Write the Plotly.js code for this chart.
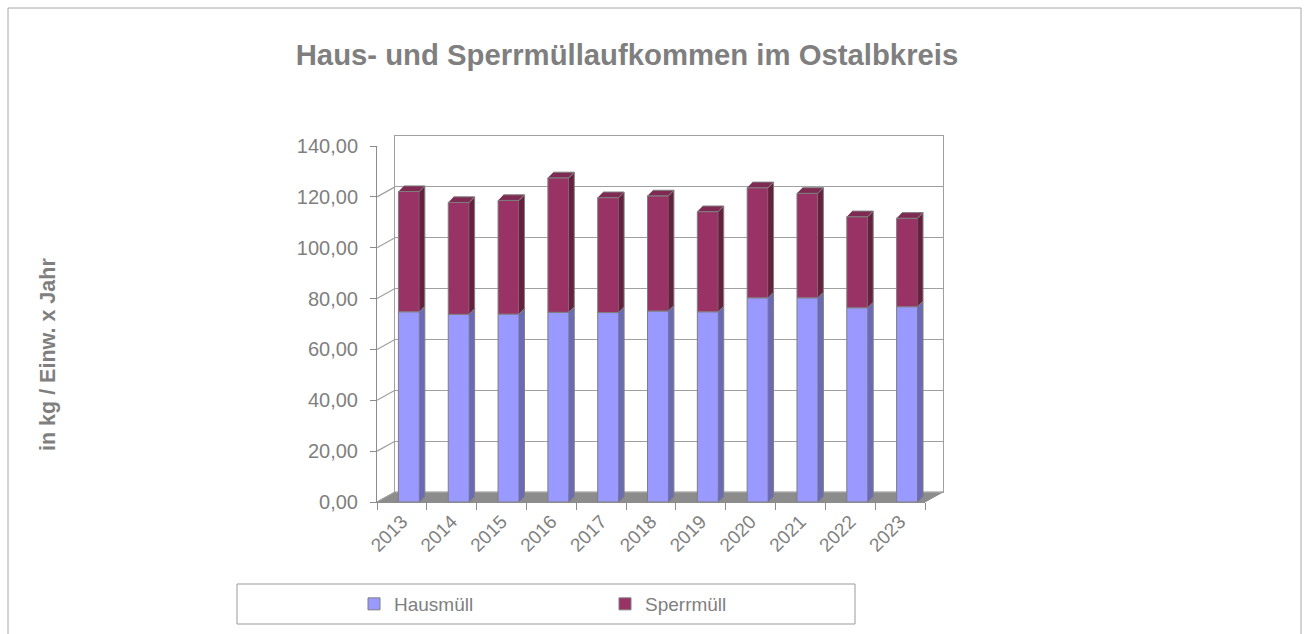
<!DOCTYPE html>
<html><head><meta charset="utf-8">
<script src="https://cdn.plot.ly/plotly-3.0.1.min.js"></script>
<style>html,body{margin:0;padding:0;background:#fff}#chart{width:1309px;height:634px}</style>
</head><body><div id="chart"></div>
<script>
// ---- data ----
const years = ['2013','2014','2015','2016','2017','2018','2019','2020','2021','2022','2023'];
const hausmuell = [74.8, 73.8, 73.9, 74.6, 74.5, 75.1, 74.8, 80.3, 80.3, 76.4, 76.8];
const sperrmuell = [47.3, 44.0, 44.7, 52.9, 45.2, 45.3, 39.4, 43.3, 41.1, 35.8, 34.8];
const seriesNames = ['Hausmüll', 'Sperrmüll'];
const yTickVals = [0, 20, 40, 60, 80, 100, 120, 140];
const chartTitle = 'Haus- und Sperrmüllaufkommen im Ostalbkreis';
const yTitle = 'in kg / Einw. x Jahr';

// ---- geometry / style ----
const W = 1309, H = 634;
const px = v => v / W, py = v => 1 - v / H;
const grey = '#7f7f7f', lineGrey = '#9a9a9a';
const font = 'Liberation Sans, Arial, sans-serif';
const barOff = -0.07, barW = 0.42, depthX = 0.11, depthY = 2.2, wallDY = 3.93;

const totals = hausmuell.map((h, i) => h + sperrmuell[i]);

function sidePolys(lo, hi) {
  const xs = [], ys = [];
  lo.forEach((b, i) => {
    const xr = i + barOff + barW;
    xs.push(xr, xr + depthX, xr + depthX, xr, null);
    ys.push(b, b + depthY, hi[i] + depthY, hi[i], null);
  });
  return {xs, ys};
}
function capPolys(top) {
  const xs = [], ys = [];
  top.forEach((t, i) => {
    const xl = i + barOff, xr = xl + barW;
    xs.push(xl, xr, xr + depthX, xl + depthX, null);
    ys.push(t, t, t + depthY, t + depthY, null);
  });
  return {xs, ys};
}
const zeros = hausmuell.map(() => 0);
const hs = sidePolys(zeros, hausmuell);
const ss = sidePolys(hausmuell, totals);
const cp = capPolys(totals);

const traces = [
  {type:'scatter', x:[0], y:[0], xaxis:'x', yaxis:'y', mode:'markers', marker:{opacity:0}, hoverinfo:'skip', showlegend:false},
  {type:'bar', name:seriesNames[0], x:years, y:hausmuell, xaxis:'x2', yaxis:'y2', offset:barOff, width:barW,
   marker:{color:'#9999FF', line:{color:grey, width:1}}},
  {type:'bar', name:seriesNames[1], x:years, y:sperrmuell, base:hausmuell, xaxis:'x2', yaxis:'y2', offset:barOff, width:barW,
   marker:{color:'#993366', line:{color:grey, width:1}}},
  {type:'scatter', x:hs.xs, y:hs.ys, xaxis:'x3', yaxis:'y2', mode:'lines', fill:'toself', fillcolor:'#6B6BB5',
   line:{color:grey, width:1}, hoverinfo:'skip', showlegend:false},
  {type:'scatter', x:ss.xs, y:ss.ys, xaxis:'x3', yaxis:'y2', mode:'lines', fill:'toself', fillcolor:'#66213F',
   line:{color:grey, width:1}, hoverinfo:'skip', showlegend:false},
  {type:'scatter', x:cp.xs, y:cp.ys, xaxis:'x3', yaxis:'y2', mode:'lines', fill:'toself', fillcolor:'#7E2A52',
   line:{color:grey, width:1}, hoverinfo:'skip', showlegend:false}
];

const shapes = [
  // outer chart border
  {type:'rect', xref:'paper', yref:'paper', x0:px(8), x1:px(1301), y0:-0.05, y1:py(8), line:{color:'#a6a6a6', width:1}, layer:'below'},
  // floor
  {type:'path', xref:'paper', yref:'paper', layer:'below', fillcolor:'#8c8c8c', line:{color:'#8c8c8c', width:1},
   path:`M ${px(377)},${py(502)} L ${px(925)},${py(502)} L ${px(943)},${py(492)} L ${px(395)},${py(492)} Z`},
  // legend frame
  {type:'rect', xref:'paper', yref:'paper', x0:px(237), x1:px(855), y0:py(624), y1:py(584), line:{color:lineGrey, width:1}, layer:'below'}
];
yTickVals.forEach(v => shapes.push({type:'line', xref:'paper', yref:'y2', layer:'below',
  x0:px(377), x1:px(395), y0:v, y1:v + wallDY, line:{color:'#a0a0a0', width:1.2}}));

const layout = {
  width:W, height:H, margin:{l:0, r:0, t:0, b:0},
  paper_bgcolor:'#ffffff', plot_bgcolor:'rgba(0,0,0,0)',
  separators:',.', barmode:'overlay', showlegend:true,
  font:{family:font, color:grey},
  title:{text:chartTitle, font:{family:font, size:29.3, weight:700, color:grey},
         x:px(627), xanchor:'center', y:py(55), yanchor:'middle'},
  // back wall
  xaxis:{domain:[px(395), px(943)], range:[-0.5, 10.5], showgrid:false, zeroline:false, showticklabels:false, ticks:'',
         showline:true, mirror:true, linecolor:'#a0a0a0', linewidth:1.2, anchor:'y', fixedrange:true},
  yaxis:{domain:[py(492), py(136)], range:[0, 140], dtick:20, showgrid:true, gridcolor:'#a0a0a0', gridwidth:1.2,
         zeroline:false, showticklabels:false, ticks:'', showline:true, mirror:true, linecolor:'#a0a0a0', linewidth:1.2, anchor:'x', fixedrange:true},
  // front axes
  xaxis2:{domain:[px(377), px(925)], type:'category', range:[-0.5, 10.5], anchor:'y2', showgrid:false, zeroline:false,
          showline:true, linecolor:'#8c8c8c', linewidth:1, ticks:'outside', ticklen:7, tickcolor:'#8c8c8c', tickson:'boundaries',
          tickangle:-45, tickfont:{family:font, size:19, color:grey}, fixedrange:true},
  xaxis3:{overlaying:'x2', range:[-0.5, 10.5], visible:false, anchor:'y2', fixedrange:true},
  yaxis2:{domain:[py(502), py(146)], range:[0, 140], tickvals:yTickVals, tickformat:'.2f', anchor:'x2',
          showgrid:false, zeroline:false, showline:true, linecolor:'#8c8c8c', linewidth:1, ticks:'outside', ticklen:6,
          tickcolor:'#8c8c8c', ticklabelstandoff:8, tickfont:{family:font, size:20, color:grey}, fixedrange:true},
  legend:{orientation:'h', x:px(354), xanchor:'left', y:py(604), yanchor:'middle', bgcolor:'rgba(0,0,0,0)',
          entrywidth:206, entrywidthmode:'pixels', font:{family:font, size:19, color:grey}, itemclick:false, itemdoubleclick:false},
  annotations:[{text:yTitle, xref:'paper', yref:'paper', x:px(48), y:py(355), textangle:-90, showarrow:false,
                font:{family:font, size:21.5, weight:700, color:grey}, xanchor:'center', yanchor:'middle'}],
  shapes:shapes
};
Plotly.newPlot('chart', traces, layout, {displayModeBar:false, staticPlot:true});
</script></body></html>
